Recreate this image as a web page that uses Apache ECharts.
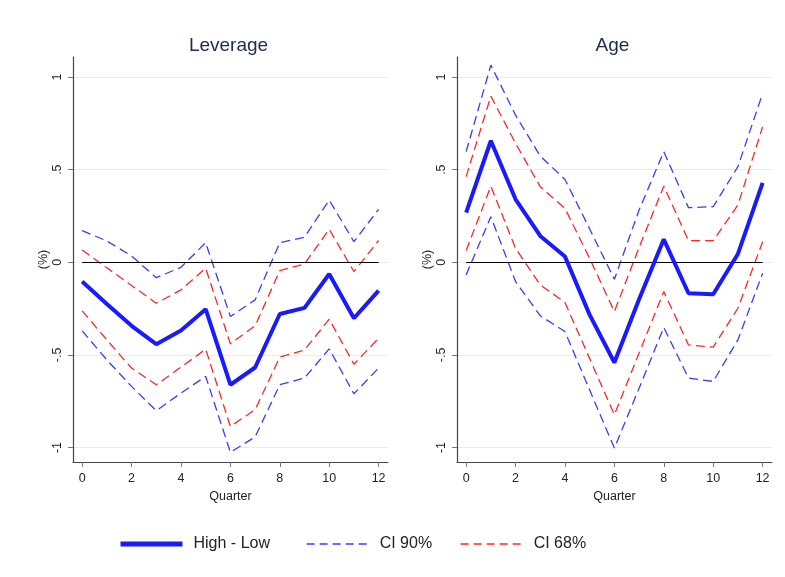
<!DOCTYPE html>
<html>
<head>
<meta charset="utf-8">
<script src="https://cdn.jsdelivr.net/npm/echarts@6/dist/echarts.min.js"></script>
<style>
html,body{margin:0;padding:0;background:#fff;}
#chart{width:785px;height:577px;}
</style>
</head>
<body>
<div id="chart"></div>
<script>
var quarters = [0,1,2,3,4,5,6,7,8,9,10,11,12];
var xTicks = [0,2,4,6,8,10,12];
var yTicks = [-1,-0.5,0,0.5,1];
var panelTitles = ['Leverage','Age'];

// Leverage panel
var levMain  = [-0.104,-0.225,-0.343,-0.442,-0.368,-0.253,-0.661,-0.568,-0.279,-0.246,-0.063,-0.302,-0.153];
var levUp90  = [0.171,0.115,0.034,-0.083,-0.027,0.106,-0.293,-0.203,0.106,0.135,0.336,0.111,0.286];
var levLo90  = [-0.370,-0.527,-0.670,-0.801,-0.706,-0.616,-1.026,-0.943,-0.661,-0.625,-0.467,-0.710,-0.571];
var levUp68  = [0.066,-0.030,-0.125,-0.221,-0.149,-0.032,-0.440,-0.343,-0.045,-0.009,0.178,-0.050,0.117];
var levLo68  = [-0.262,-0.419,-0.571,-0.661,-0.566,-0.469,-0.886,-0.796,-0.512,-0.473,-0.307,-0.550,-0.410];

// Age panel
var ageMain  = [0.268,0.656,0.340,0.142,0.031,-0.284,-0.541,-0.200,0.124,-0.167,-0.173,0.045,0.429];
var ageUp90  = [0.597,1.064,0.794,0.573,0.447,0.180,-0.092,0.282,0.597,0.295,0.300,0.516,0.911];
var ageLo90  = [-0.068,0.246,-0.104,-0.289,-0.374,-0.690,-1.003,-0.680,-0.352,-0.625,-0.643,-0.419,-0.059];
var ageUp68  = [0.462,0.897,0.642,0.408,0.291,0.020,-0.266,0.080,0.411,0.117,0.117,0.309,0.731];
var ageLo68  = [0.063,0.411,0.075,-0.122,-0.217,-0.520,-0.823,-0.490,-0.158,-0.446,-0.458,-0.248,0.111];

var names = {main:'High - Low', ci90:'CI 90%', ci68:'CI 68%'};
var colMain = '#1a1aff', col90 = '#3b3bff', col68 = '#ff2626';

function pairs(arr){ return quarters.map(function(q,i){ return [q, arr[i]]; }); }
function yFmt(v){
  if (v === 0) return '0';
  return String(v).replace('0.', '.');
}

var grids = [
  {left:73, top:57, width:315, height:405},
  {left:457, top:57, width:315, height:405}
];

var xAxes = [0,1].map(function(i){
  return {
    type:'value', gridIndex:i, min:-0.37, max:12.38,
    name:'Quarter', nameLocation:'middle', nameGap:25,
    nameTextStyle:{color:'#222', fontSize:12.5, fontFamily:'Liberation Sans'},
    axisLine:{show:true, onZero:false, lineStyle:{color:'#444', width:1.2}},
    axisTick:{show:true, length:5, customValues:xTicks, lineStyle:{color:'#777'}},
    axisLabel:{customValues:xTicks, color:'#222', fontSize:12.5, margin:10, fontFamily:'Liberation Sans'},
    splitLine:{show:false}
  };
});

var yAxes = [0,1].map(function(i){
  return {
    type:'value', gridIndex:i, min:-1.078, max:1.108,
    name:'(%)', nameLocation:'middle', nameGap:23,
    nameTextStyle:{color:'#222', fontSize:12.5, fontFamily:'Liberation Sans'},
    axisLine:{show:true, onZero:false, lineStyle:{color:'#444', width:1.2}},
    axisTick:{show:true, length:5, customValues:yTicks, lineStyle:{color:'#777'}},
    axisLabel:{customValues:yTicks, rotate:90, color:'#222', fontSize:12.5, margin:9,
               fontFamily:'Liberation Sans', formatter:yFmt},
    splitLine:{show:true, lineStyle:{color:'#e5eff0', width:1}}
  };
});

function lineSeries(name, data, idx, color, width, dashed, z){
  return {
    name:name, type:'line', xAxisIndex:idx, yAxisIndex:idx,
    data:pairs(data), symbol:'none', smooth:false, z:z, silent:true,
    lineStyle:{color:color, width:width, type: dashed ? [9,5] : 'solid'},
    itemStyle:{color:color}
  };
}

var panels = [
  {main:levMain, up90:levUp90, lo90:levLo90, up68:levUp68, lo68:levLo68},
  {main:ageMain, up90:ageUp90, lo90:ageLo90, up68:ageUp68, lo68:ageLo68}
];

var series = [];
panels.forEach(function(p, i){
  series.push(lineSeries(names.main, p.main, i, colMain, 4, false, 5));
  series.push(lineSeries(names.ci90, p.up90, i, col90, 1.3, true, 3));
  series.push(lineSeries(names.ci90, p.lo90, i, col90, 1.3, true, 3));
  series.push(lineSeries(names.ci68, p.up68, i, col68, 1.3, true, 4));
  series.push(lineSeries(names.ci68, p.lo68, i, col68, 1.3, true, 4));
  series[series.length-5].markLine = {
    silent:true, symbol:'none', animation:false,
    lineStyle:{color:'#000', width:1, type:'solid'}, label:{show:false},
    data:[[{coord:[quarters[0],0]},{coord:[quarters[quarters.length-1],0]}]]
  };
});

var titles = panelTitles.map(function(t, i){
  return {
    text:t, left: grids[i].left + grids[i].width/2 - 7, top:31, textAlign:'center',
    textStyle:{color:'#1f2b4d', fontSize:19, fontWeight:'normal', fontFamily:'Liberation Sans'}
  };
});

var legendItems = [
  {name:names.main, lineStyle:{width:5}, left:113},
  {name:names.ci90, lineStyle:{width:1.3, type:[8,5]}, left:301},
  {name:names.ci68, lineStyle:{width:1.3, type:[8,5]}, left:455}
];
var legends = legendItems.map(function(it){
  return {
    data:[{name:it.name, lineStyle:it.lineStyle}],
    left:it.left, top:531, itemWidth:62, itemHeight:14,
    itemStyle:{opacity:0},
    textStyle:{color:'#222', fontSize:16, fontFamily:'Liberation Sans', padding:[0,0,0,6]},
    selectedMode:false
  };
});

var chart = echarts.init(document.getElementById('chart'), null, {renderer:'canvas'});
chart.setOption({
  backgroundColor:'#fff',
  animation:false,
  title:titles,
  grid:grids,
  xAxis:xAxes,
  yAxis:yAxes,
  legend:legends,
  series:series
});
</script>
</body>
</html>
